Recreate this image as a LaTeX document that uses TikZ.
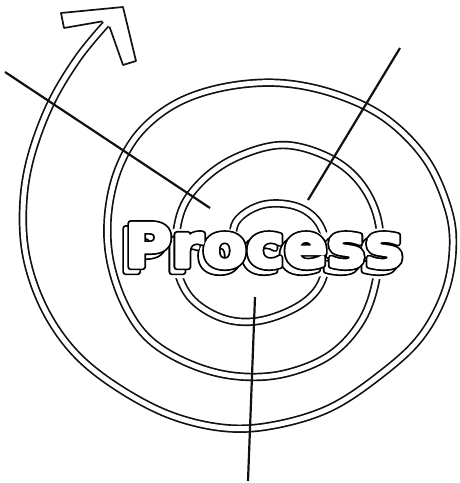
\documentclass[tikz,border=0pt]{standalone}
\usepackage{fontspec}
\setsansfont{DejaVu Sans}
\usepackage{tikz}
\usetikzlibrary{positioning}
\definecolor{InkBlack}{HTML}{111111}
\tikzset{
  band/.style={draw=InkBlack, line width=1.7pt, double=white, double distance=5pt},
  spoke/.style={draw=InkBlack, line width=2.2pt},
  headshape/.style={draw=InkBlack, line width=1.7pt, line join=round},
  wordnode/.style={inner sep=0pt, anchor=base, xscale=1.06,
                   font=\sffamily\bfseries\fontsize{60}{66}\selectfont}
}
% fill colour, stroke colour, stroke width
\newcommand{\strokeword}[3]{%
  \special{pdf:literal direct #1 rg #2 RG #3 w 1 j 2 Tr}Process%
  \special{pdf:literal direct 0 Tr 0 g 0 G}}

\begin{document}
\begin{tikzpicture}[x=1pt, y=-1pt]
  \useasboundingbox (0,0) rectangle (460,483);

  % spiral band, from the centre outwards
  \draw[band] plot[smooth, tension=0.6] coordinates {
    (232,252) (236,222) (262,205) (295,206) (318,222) (327,252) (320,285)
    (297,307) (258,321) (222,318) (190,297) (176,262) (180,215) (200,183)
    (235,158) (283,145) (330,158) (362,185) (379,225) (377,275) (362,320)
    (330,355) (283,374) (235,376) (190,364) (150,340) (125,305) (110,260)
    (108,215) (118,170) (140,132) (177,103) (225,87) (280,83) (335,94)
    (385,118) (425,158) (447,205) (453,245) (445,292) (420,338) (380,375)
    (330,408) (275,425) (225,428) (170,415) (117,387) (75,353) (45,310)
    (27,260) (23,210) (30,160) (50,105) (78,58) (106,24)};

  % open arrow head
  \fill[white] (102,21) -- (64,28) -- (61,13) -- (123,7) -- (136,61) -- (123,65) -- (110,27) -- cycle;
  \draw[headshape] (102.5,21.3) -- (64,28) -- (61,13) -- (123,7) -- (136,61) -- (123,65) -- (109.5,26.7);

  % spokes
  \coordinate (nw-end) at (5,72);
  \coordinate (nw-tip) at (210,208);
  \coordinate (ne-end) at (400,48);
  \coordinate (ne-tip) at (308,200);
  \coordinate (s-end)  at (248,481);
  \coordinate (s-tip)  at (255,297);
  \draw[spoke] (nw-end) -- (nw-tip);
  \draw[spoke] (ne-end) -- (ne-tip);
  \draw[spoke] (s-end) -- (s-tip);

  % word, with its shifted shade behind
  \node[wordnode] (mask)       at (261,270) {\strokeword{1 1 1}{1 1 1}{16}};
  \node[wordnode] (shade-ink)  at (259,272) {\strokeword{0 0 0}{0 0 0}{6.4}};
  \node[wordnode] (shade-body) at (259,272) {\strokeword{1 1 1}{1 1 1}{3.0}};
  \node[wordnode] (word-ink)   at (264,267) {\strokeword{0 0 0}{0 0 0}{6.4}};
  \node[wordnode] (word-body)  at (264,267) {\strokeword{1 1 1}{1 1 1}{3.0}};
\end{tikzpicture}
\end{document}
